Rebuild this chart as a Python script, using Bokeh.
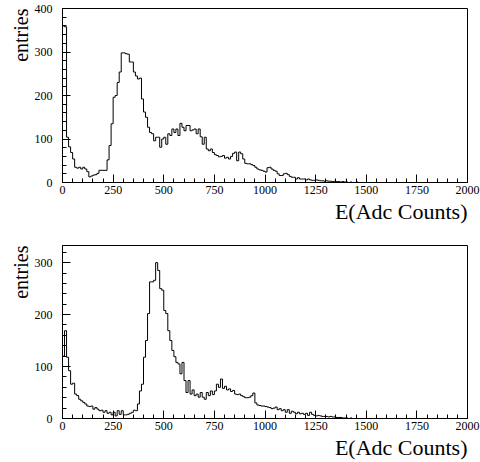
from bokeh.plotting import figure
from bokeh.layouts import column
from bokeh.models import Range1d, FixedTicker, Title
from bokeh.embed import file_html
from bokeh.resources import INLINE

BIN_WIDTH = 10

counts_top = [
    360, 358, 104, 82, 69, 54, 35, 33, 35, 31,
    35, 31, 25, 13, 15, 17, 18, 21, 28, 28,
    28, 28, 52, 85, 135, 196, 200, 230, 254, 298,
    298, 296, 295, 277, 277, 254, 245, 238, 240, 192,
    162, 150, 127, 115, 112, 96, 104, 104, 81, 100,
    104, 88, 112, 108, 123, 115, 123, 108, 136, 127,
    119, 131, 131, 119, 121, 123, 112, 123, 105, 88,
    104, 77, 73, 77, 69, 64, 62, 59, 60, 62,
    56, 58, 54, 60, 67, 70, 50, 70, 66, 54,
    44, 43, 43, 41, 39, 35, 31, 29, 28, 26,
    24, 34, 35, 31, 28, 26, 20, 16, 16, 20,
    21, 18, 14, 12, 12, 8, 11, 8, 8, 8,
    6, 8, 6, 5, 5, 6, 5, 4, 4, 3,
    4, 3, 3, 2, 3, 2, 2, 1, 2, 1,
    1, 0, 1, 0, 0, 1, 0, 0, 0, 0,
]

counts_bottom = [
    120, 169, 118, 92, 66, 68, 47, 44, 37, 34,
    31, 28, 24, 23, 24, 18, 21, 18, 15, 16,
    12, 15, 10, 12, 7, 12, 5, 15, 8, 15,
    7, 7, 8, 10, 12, 16, 15, 28, 53, 66,
    118, 150, 202, 263, 263, 266, 300, 285, 250, 247,
    208, 202, 169, 150, 131, 119, 108, 105, 86, 108,
    73, 50, 73, 47, 55, 44, 47, 41, 50, 41,
    37, 50, 44, 53, 46, 53, 66, 60, 76, 58,
    62, 55, 57, 52, 54, 47, 46, 47, 44, 42,
    40, 40, 41, 44, 49, 30, 26, 25, 24, 24,
    23, 22, 21, 19, 20, 22, 17, 19, 15, 17,
    12, 17, 10, 14, 12, 9, 12, 9, 10, 8,
    10, 6, 12, 8, 6, 5, 6, 5, 4, 4,
    4, 3, 4, 3, 3, 2, 2, 2, 1, 1,
    1, 0, 1, 0, 0, 0, 0, 0, 0, 0,
]

x_major_ticks = [0, 250, 500, 750, 1000, 1250, 1500, 1750, 2000]
x_minor_ticks = list(range(0, 2001, 50))
y_major_top = [0, 100, 200, 300, 400]
y_minor_top = list(range(0, 401, 20))
y_major_bottom = [0, 100, 200, 300]
y_minor_bottom = list(range(0, 334, 20))
x_range_max = 2000
y_max_top = 400
y_max_bottom = 333
x_title = "E(Adc Counts)"
y_title = "entries"

FONT = "Liberation Serif"


def make_panel(counts, ymax, ymaj, ymin, height, border_top, border_bottom):
    p = figure(width=480, height=height,
               x_range=Range1d(0, x_range_max), y_range=Range1d(0, ymax),
               output_backend="svg", toolbar_location=None,
               min_border_left=62, min_border_right=13,
               min_border_top=border_top, min_border_bottom=border_bottom)
    p.background_fill_color = "white"
    p.border_fill_color = "white"
    p.outline_line_color = "black"
    p.outline_line_width = 1
    p.outline_line_alpha = 1
    p.xgrid.visible = False
    p.ygrid.visible = False

    edges = [i * BIN_WIDTH for i in range(len(counts) + 1)]
    xs = [edges[0]] + edges
    ys = [0] + list(counts) + [0]
    p.step(xs, ys, mode="after", line_color="black", line_width=1)

    p.xaxis.ticker = FixedTicker(ticks=x_major_ticks, minor_ticks=x_minor_ticks)
    p.yaxis.ticker = FixedTicker(ticks=ymaj, minor_ticks=ymin)
    for ax in (p.xaxis[0], p.yaxis[0]):
        ax.axis_line_color = "black"
        ax.major_tick_line_color = "black"
        ax.minor_tick_line_color = "black"
        ax.major_tick_in = 8
        ax.major_tick_out = 0
        ax.minor_tick_in = 4
        ax.minor_tick_out = 0
        ax.major_label_text_font = FONT
        ax.major_label_text_font_size = "12px"
        ax.major_label_text_color = "black"
    p.xaxis.major_label_standoff = 3
    p.yaxis.major_label_standoff = 10

    xt = Title(text=x_title, align="right", text_font=FONT,
               text_font_size="22px", text_font_style="normal",
               text_color="black", standoff=0)
    yt = Title(text=y_title, align="right", text_font=FONT,
               text_font_size="20px", text_font_style="normal",
               text_color="black", standoff=0)
    p.add_layout(xt, "below")
    p.add_layout(yt, "left")
    return p


p1 = make_panel(counts_top, y_max_top, y_major_top, y_minor_top, 236, 8, 54)
p2 = make_panel(counts_bottom, y_max_bottom, y_major_bottom, y_minor_bottom, 226, 9, 44)

layout = column(p1, p2)
open("out.html", "w").write(file_html(layout, INLINE))
